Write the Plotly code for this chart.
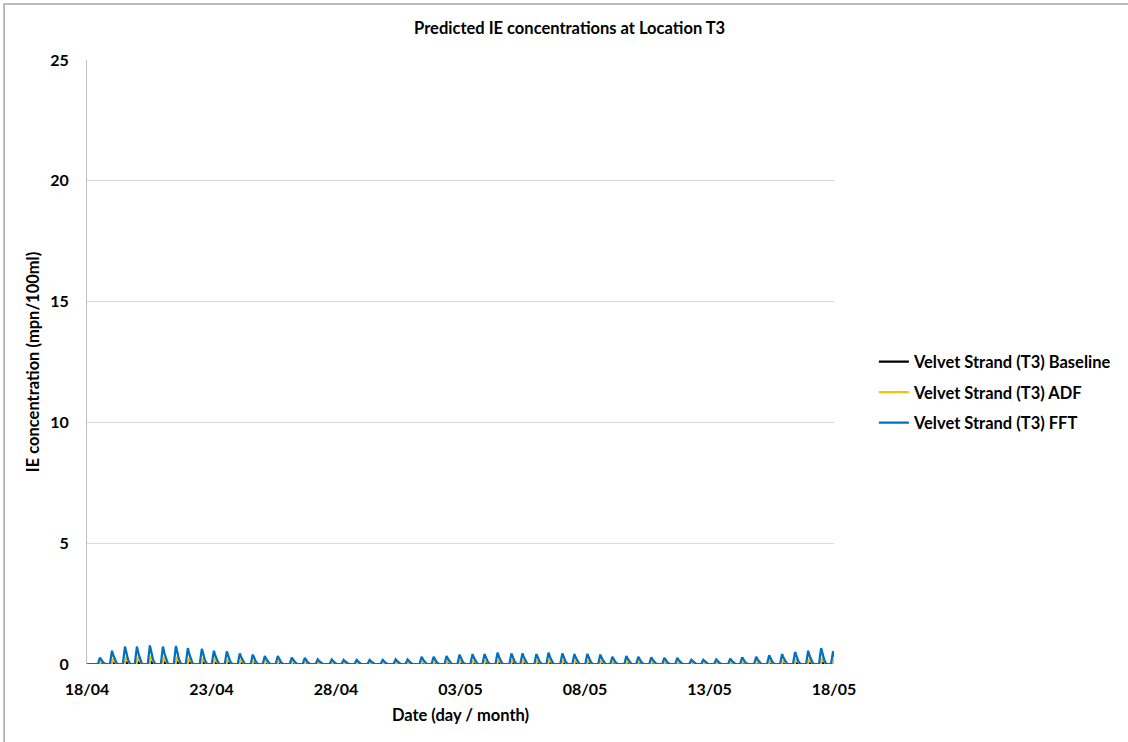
import plotly.graph_objects as go
from datetime import datetime, timedelta

# ---- data ----
start_date = "2019-04-18"
end_date = "2019-05-18"
# hours after 18/04 00:00 at which each tidal spike peaks
peak_hours = [12.5, 24.1, 36.6, 48.1, 60.6, 73.2, 85.7, 97.2, 110.7, 122.3,
              134.8, 147.3, 159.8, 171.4, 183.9, 197.4, 209.9, 222.4, 235.9, 247.4,
              259.9, 272.4, 285.0, 297.5, 309.0, 322.5, 334.1, 346.6, 359.1, 371.6,
              383.2, 395.7, 409.1, 419.7, 433.2, 444.8, 458.2, 469.8, 482.3, 494.8,
              506.4, 519.9, 531.4, 543.9, 556.5, 569.0, 582.5, 594.0, 606.5, 620.0,
              631.5, 645.0, 657.5, 670.0, 682.5, 695.1, 707.6, 719.1]
fft_peaks = [0.26, 0.55, 0.72, 0.72, 0.77, 0.72, 0.75, 0.66, 0.63, 0.55,
             0.52, 0.44, 0.39, 0.33, 0.33, 0.27, 0.25, 0.19, 0.19, 0.17,
             0.17, 0.17, 0.17, 0.19, 0.19, 0.30, 0.30, 0.33, 0.39, 0.41,
             0.41, 0.47, 0.44, 0.44, 0.41, 0.47, 0.44, 0.41, 0.42, 0.39,
             0.30, 0.33, 0.30, 0.28, 0.25, 0.25, 0.17, 0.17, 0.19, 0.22,
             0.28, 0.30, 0.36, 0.41, 0.50, 0.55, 0.66, 0.52]
adf_peaks = [0.10, 0.22, 0.29, 0.29, 0.31, 0.29, 0.30, 0.26, 0.25, 0.22,
             0.21, 0.18, 0.16, 0.13, 0.13, 0.11, 0.10, 0.08, 0.08, 0.07,
             0.07, 0.07, 0.07, 0.08, 0.08, 0.12, 0.12, 0.13, 0.16, 0.16,
             0.16, 0.19, 0.18, 0.18, 0.16, 0.19, 0.18, 0.16, 0.17, 0.16,
             0.12, 0.13, 0.12, 0.11, 0.10, 0.10, 0.07, 0.07, 0.08, 0.09,
             0.11, 0.12, 0.14, 0.16, 0.20, 0.22, 0.26, 0.21]
baseline_peaks = [0.03, 0.06, 0.08, 0.08, 0.08, 0.08, 0.08, 0.07, 0.07, 0.06,
                  0.05, 0.05, 0.04, 0.04, 0.04, 0.03, 0.03, 0.02, 0.02, 0.02,
                  0.02, 0.02, 0.02, 0.02, 0.02, 0.03, 0.03, 0.04, 0.04, 0.04,
                  0.04, 0.05, 0.05, 0.05, 0.04, 0.05, 0.05, 0.04, 0.04, 0.04,
                  0.03, 0.04, 0.03, 0.03, 0.03, 0.03, 0.02, 0.02, 0.02, 0.02,
                  0.03, 0.03, 0.04, 0.04, 0.05, 0.06, 0.07, 0.05]
series_names = ["Velvet Strand (T3) Baseline", "Velvet Strand (T3) ADF", "Velvet Strand (T3) FFT"]
y_ticks = [0, 5, 10, 15, 20, 25]

# ---- spike profile (shape of one tidal pulse: hour offset, fraction of peak) ----
profile_fft = [(-2.0, 0.0), (0.0, 1.0), (1.5, 0.6), (3.0, 0.25), (4.5, 0.06), (5.5, 0.0)]
profile_adf = [(-0.3, 0.0), (1.3, 1.0), (2.6, 0.5), (3.8, 0.15), (4.8, 0.0)]
profile_base = [(0.5, 0.0), (1.8, 1.0), (3.0, 0.4), (4.2, 0.0)]

t0 = datetime.strptime(start_date, "%Y-%m-%d")
t_end = datetime.strptime(end_date, "%Y-%m-%d")


def build(peaks, profile):
    xs, ys = [t0], [0.0]
    for h, p in zip(peak_hours, peaks):
        for dh, f in profile:
            xs.append(t0 + timedelta(hours=h + dh))
            ys.append(p * f)
    xs.append(t0 + timedelta(hours=740))
    ys.append(0.0)
    return xs, ys


colors = ["#000000", "#FFC000", "#0070C0"]
data = [build(baseline_peaks, profile_base), build(adf_peaks, profile_adf), build(fft_peaks, profile_fft)]

fig = go.Figure()
for i, ((xs, ys), name, c) in enumerate(zip(data, series_names, colors)):
    fig.add_trace(go.Scatter(x=xs, y=ys, mode="lines", name=name, legendgroup=f"g{i}",
                             line=dict(color=c, width=2.25)))

FONT = "Lato, 'Open Sans', sans-serif"
fig.update_layout(
    width=1128, height=742,
    margin=dict(l=87, r=293, t=60, b=78),
    paper_bgcolor="white", plot_bgcolor="white",
    font=dict(family=FONT, color="#000000"),
    title=dict(text="Predicted IE concentrations at Location T3", x=0.505, xanchor="center",
               y=1 - 28 / 742, yanchor="middle", font=dict(size=16.5, weight="bold", family=FONT)),
    legend=dict(x=1.052, xanchor="left", y=0.529, yanchor="top",
                font=dict(size=16.5, weight="bold", family=FONT),
                bgcolor="rgba(0,0,0,0)", itemwidth=30, tracegroupgap=6),
    showlegend=True,
)
fig.update_xaxes(
    type="date", range=[t0, t_end], tickformat="%d/%m", dtick=5 * 86400000, tick0=t0,
    showgrid=False, zeroline=False, showline=False, ticks="",
    tickfont=dict(size=16, weight="bold", family=FONT), ticklabelstandoff=14,
    title=dict(text="Date (day / month)", font=dict(size=16.5, weight="bold", family=FONT), standoff=12),
)
fig.update_yaxes(
    range=[0, 25], tickvals=y_ticks, showgrid=True, gridcolor="#D9D9D9", gridwidth=1,
    zeroline=False, showline=True, linecolor="#BFBFBF", linewidth=1, ticks="",
    tickfont=dict(size=16, weight="bold", family=FONT), ticklabelstandoff=14,
    title=dict(text="IE concentration (mpn/100ml)", font=dict(size=16.5, weight="bold", family=FONT), standoff=6),
)
# outer chart border (only top and left edges fall inside the picture)
fig.add_shape(type="rect", xref="paper", yref="paper",
              x0=(4 - 87) / 748, x1=(1140 - 87) / 748, y0=(664 - 760) / 604, y1=(664 - 4) / 604,
              line=dict(color="#A6A6A6", width=1.5), fillcolor="rgba(0,0,0,0)", layer="below")

fig.write_html("out.html", config={"displayModeBar": False},
               post_script="document.body.style.margin='0px';")
